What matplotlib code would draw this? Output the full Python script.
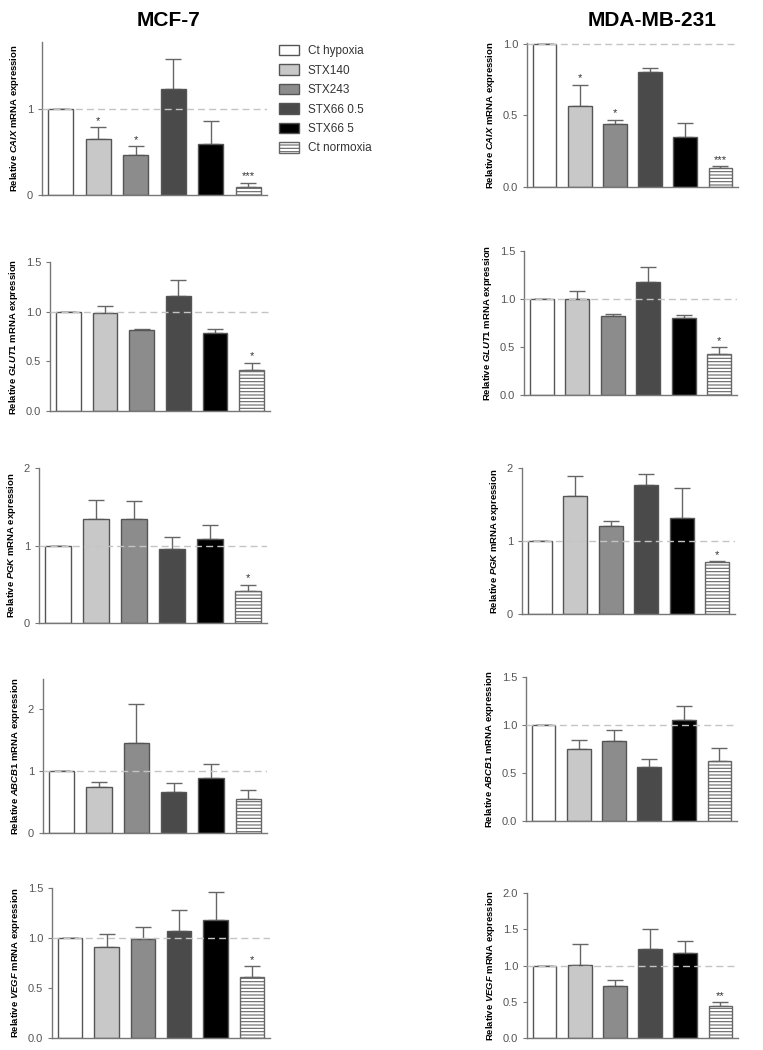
import numpy as np
import matplotlib
matplotlib.use("Agg")
import matplotlib.pyplot as plt

plt.rcParams['font.family'] = ['Liberation Sans', 'DejaVu Sans']
plt.rcParams['mathtext.fontset'] = 'custom'
plt.rcParams['mathtext.it'] = 'Liberation Sans:italic:bold'
plt.rcParams['mathtext.rm'] = 'Liberation Sans:bold'
plt.rcParams['hatch.linewidth'] = 0.8

groups = ['Ct hypoxia', 'STX140', 'STX243', 'STX66 0.5', 'STX66 5', 'Ct normoxia']
genes = ['CAIX', 'GLUT1', 'PGK', 'ABCB1', 'VEGF']

# MCF-7 means / upper SEM
mcf_vals = {
    'CAIX':  [1.0, 0.65, 0.465, 1.23, 0.59, 0.09],
    'GLUT1': [1.0, 0.983, 0.815, 1.16, 0.79, 0.414],
    'PGK':   [1.0, 1.343, 1.339, 0.961, 1.08, 0.412],
    'ABCB1': [1.0, 0.742, 1.446, 0.667, 0.892, 0.554],
    'VEGF':  [1.0, 0.907, 0.988, 1.068, 1.185, 0.606],
}
mcf_err = {
    'CAIX':  [0, 0.14, 0.105, 0.35, 0.27, 0.05],
    'GLUT1': [0, 0.077, 0.013, 0.16, 0.04, 0.073],
    'PGK':   [0, 0.25, 0.23, 0.15, 0.186, 0.082],
    'ABCB1': [0, 0.075, 0.63, 0.133, 0.22, 0.145],
    'VEGF':  [0, 0.138, 0.124, 0.208, 0.275, 0.114],
}
mcf_stars = {
    'CAIX':  ['', '*', '*', '', '', '***'],
    'GLUT1': ['', '', '', '', '', '*'],
    'PGK':   ['', '', '', '', '', '*'],
    'ABCB1': ['', '', '', '', '', ''],
    'VEGF':  ['', '', '', '', '', '*'],
}

# MDA-MB-231 means / upper SEM
mda_vals = {
    'CAIX':  [1.0, 0.567, 0.4375, 0.80, 0.35, 0.134],
    'GLUT1': [1.0, 0.997, 0.824, 1.173, 0.806, 0.429],
    'PGK':   [1.0, 1.617, 1.212, 1.772, 1.321, 0.706],
    'ABCB1': [1.0, 0.753, 0.833, 0.5625, 1.056, 0.621],
    'VEGF':  [1.0, 1.011, 0.722, 1.232, 1.168, 0.446],
}
mda_err = {
    'CAIX':  [0, 0.146, 0.033, 0.03, 0.097, 0.012],
    'GLUT1': [0, 0.086, 0.02, 0.163, 0.028, 0.069],
    'PGK':   [0, 0.269, 0.068, 0.151, 0.41, 0.014],
    'ABCB1': [0, 0.094, 0.111, 0.08, 0.138, 0.143],
    'VEGF':  [0, 0.286, 0.073, 0.276, 0.17, 0.051],
}
mda_stars = {
    'CAIX':  ['', '*', '*', '', '', '***'],
    'GLUT1': ['', '', '', '', '', '*'],
    'PGK':   ['', '', '', '', '', '*'],
    'ABCB1': ['', '', '', '', '', ''],
    'VEGF':  ['', '', '', '', '', '**'],
}

# y axis settings per panel: (top, ticks, ticklabels)
mcf_y = {
    'CAIX':  (1.78, [0, 1], ['0', '1']),
    'GLUT1': (1.5, [0, 0.5, 1, 1.5], ['0.0', '0.5', '1.0', '1.5']),
    'PGK':   (2.0, [0, 1, 2], ['0', '1', '2']),
    'ABCB1': (2.48, [0, 1, 2], ['0', '1', '2']),
    'VEGF':  (1.5, [0, 0.5, 1, 1.5], ['0.0', '0.5', '1.0', '1.5']),
}
mda_y = {
    'CAIX':  (1.005, [0, 0.5, 1], ['0.0', '0.5', '1.0']),
    'GLUT1': (1.5, [0, 0.5, 1, 1.5], ['0.0', '0.5', '1.0', '1.5']),
    'PGK':   (2.0, [0, 1, 2], ['0', '1', '2']),
    'ABCB1': (1.5, [0, 0.5, 1, 1.5], ['0.0', '0.5', '1.0', '1.5']),
    'VEGF':  (2.0, [0, 0.5, 1, 1.5, 2], ['0.0', '0.5', '1.0', '1.5', '2.0']),
}

colors = ['white', '#c8c8c8', '#8c8c8c', '#4a4a4a', '#000000', 'white']
hatches = [None, None, None, None, None, '-----']

W, H = 763, 1050
fig = plt.figure(figsize=(W / 100, H / 100), dpi=100)

# panel boxes in pixels: x0, x1, ytop, ybottom
mcf_box = {
    'CAIX':  (42, 267, 42, 195),
    'GLUT1': (50, 270, 262, 411),
    'PGK':   (39, 267, 468, 623),
    'ABCB1': (43, 267, 679, 833),
    'VEGF':  (52, 270, 888, 1038),
}
mda_box = {
    'CAIX':  (527, 738, 43, 187),
    'GLUT1': (524, 737, 251, 395),
    'PGK':   (522, 735, 468, 614),
    'ABCB1': (526, 737, 677, 821),
    'VEGF':  (527, 738, 893, 1038),
}


def panel(box, gene, vals, err, stars, ysets):
    x0, x1, yt, yb = box
    ax = fig.add_axes([x0 / W, 1 - yb / H, (x1 - x0) / W, (yb - yt) / H])
    x = np.arange(len(vals))
    bars = ax.bar(x, vals, width=0.67, color=colors, edgecolor='#555555',
                  linewidth=1.0, zorder=2)
    for b, h in zip(bars, hatches):
        if h:
            b.set_hatch(h)
            b.set_edgecolor('#666666')
    ax.errorbar(x, vals, yerr=[np.zeros(len(err)), err], fmt='none',
                ecolor='#666666', elinewidth=1.0, capsize=6, capthick=1.0, zorder=1)
    ax.axhline(1.0, color='#c4c4c4', lw=1.0, ls=(0, (5, 3)), zorder=3)
    top, ticks, labels = ysets
    ax.set_ylim(0, top)
    ax.set_xlim(-0.5, 5.5)
    ax.set_yticks(ticks)
    ax.set_yticklabels(labels)
    for i, s in enumerate(stars):
        if s:
            ax.annotate(s, (x[i], vals[i] + err[i]), xytext=(0, 1),
                        textcoords='offset points', ha='center', va='bottom',
                        fontsize=8, color='#333333')
    ax.set_xticks([])
    for sp in ['top', 'right']:
        ax.spines[sp].set_visible(False)
    for sp in ['left', 'bottom']:
        ax.spines[sp].set_color('#777777')
        ax.spines[sp].set_linewidth(1.0)
    ax.tick_params(axis='y', colors='#777777', labelcolor='#555555',
                   labelsize=8, length=3, width=0.8)
    ax.set_ylabel('Relative $\\mathit{' + gene + '}$ mRNA expression',
                  fontsize=6.8, fontweight='bold', labelpad=4)
    ax.set_facecolor('none')
    return ax


for g in genes:
    a = panel(mcf_box[g], g, mcf_vals[g], mcf_err[g], mcf_stars[g], mcf_y[g])
    if g == 'CAIX':
        legend_ax = a
    panel(mda_box[g], g, mda_vals[g], mda_err[g], mda_stars[g], mda_y[g])

handles = legend_ax.containers[0].patches
fig.legend(handles, groups, loc='upper left', bbox_to_anchor=(279 / W, 1 - 45 / H),
           frameon=False, fontsize=8.5, handlelength=1.7, handleheight=0.95,
           labelspacing=0.62, handletextpad=0.75, borderpad=0, borderaxespad=0,
           labelcolor='#333333')

fig.text(168 / W, 1 - 20 / H, 'MCF-7', ha='center', va='center',
         fontsize=15, fontweight='bold')
fig.text(652 / W, 1 - 20 / H, 'MDA-MB-231', ha='center', va='center',
         fontsize=15, fontweight='bold')

fig.savefig('out.png', dpi=100)
